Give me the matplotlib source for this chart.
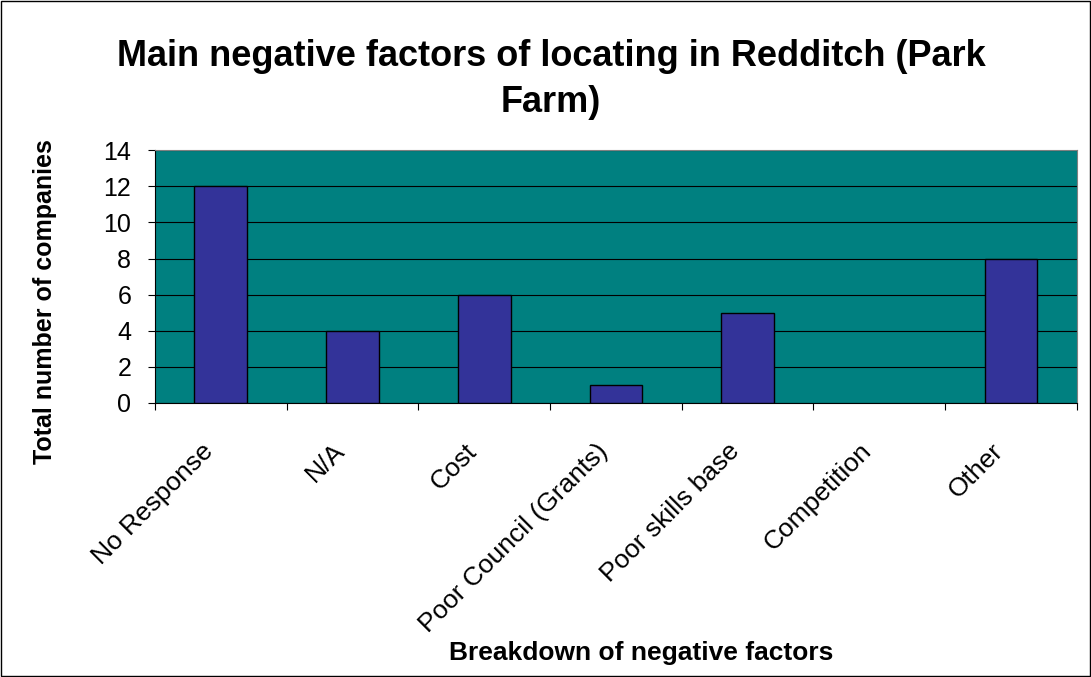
import matplotlib
matplotlib.use("Agg")
import matplotlib.pyplot as plt
from matplotlib.patches import Rectangle
from matplotlib.transforms import ScaledTranslation

# Data
factors = ["No Response", "N/A", "Cost", "Poor Council (Grants)",
           "Poor skills base", "Competition", "Other"]
companies = [12, 4, 6, 1, 5, 0, 8]
y_ticks = [0, 2, 4, 6, 8, 10, 12, 14]

plt.rcParams["font.family"] = ["Liberation Sans", "DejaVu Sans"]

fig = plt.figure(figsize=(10.91, 6.77), dpi=100)
ax = fig.add_axes([0.142, 0.405, 0.845, 0.373])

ax.set_facecolor("#008080")
x = list(range(len(factors)))
# no outline for empty bars, so nothing shows for a zero count
edges = ["black" if v > 0 else "none" for v in companies]
ax.bar(x, companies, width=0.4, color="#333399", edgecolor=edges, linewidth=1, zorder=3)

ax.set_xlim(-0.5, len(factors) - 0.5)
ax.set_ylim(0, 14)
ax.set_yticks(y_ticks)
ax.yaxis.grid(True, color="black", linewidth=0.8, zorder=1)
ax.set_axisbelow(True)

# tick marks between categories, labels centred under bars
ax.set_xticks([i - 0.5 for i in range(len(factors) + 1)])
ax.set_xticklabels([])
ax.set_xticks(x, minor=True)
ax.tick_params(axis="x", which="minor", length=0, pad=26)
ax.tick_params(axis="x", which="major", length=5, direction="out")
ax.tick_params(axis="y", labelsize=18, length=5, direction="out", pad=12)
ax.set_xticklabels(factors, minor=True, rotation=45, ha="right", rotation_mode="anchor",
                   fontsize=19)
shift = ScaledTranslation(-0.2, 0, fig.dpi_scale_trans)
for lab in ax.get_xticklabels(minor=True):
    lab.set_transform(lab.get_transform() + shift)
for s in ax.spines.values():
    s.set_color("#808080")
ax.spines["left"].set_color("black")
ax.spines["bottom"].set_color("black")

fig.text(0.041, 0.554, "Total number of companies", rotation=90, ha="center", va="center",
         fontsize=18, fontweight="bold")
fig.text(0.588, 0.035, "Breakdown of negative factors", ha="center", va="center",
         fontsize=19, fontweight="bold")
fig.text(0.505, 0.883, "Main negative factors of locating in Redditch (Park\nFarm)",
         ha="center", va="center", fontsize=26, fontweight="bold", linespacing=1.4)

fig.add_artist(Rectangle((0.001, 0.001), 0.998, 0.997, transform=fig.transFigure,
                         fill=False, edgecolor="black", linewidth=1))

fig.savefig("out.png", dpi=100)
